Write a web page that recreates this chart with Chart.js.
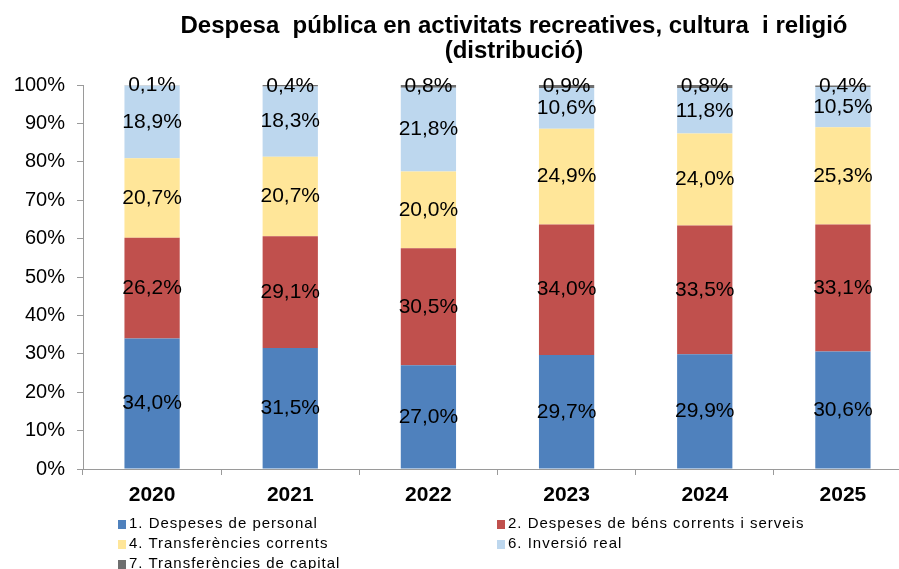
<!DOCTYPE html>
<html>
<head>
<meta charset="utf-8">
<script src="https://cdn.jsdelivr.net/npm/chart.js@4/dist/chart.umd.min.js"></script>
<style>
    html, body { margin: 0; padding: 0; background: #fff; overflow: hidden; width: 899px; height: 569px; }
    .wrap { position: absolute; left: 0; top: 0; width: 912px; height: 569px; }
    .title { position: absolute; left: 0; top: 12px; width: 1028px; text-align: center; font: bold 24px "Liberation Sans", Arial, sans-serif; line-height: 25px; color: #000; }
    .legend { position: absolute; left: 118px; top: 513px; font: 15px "Liberation Sans", Arial, sans-serif; letter-spacing: 1px; color: #000; }
    .legend div { position: absolute; white-space: nowrap; line-height: 20px; }
    .legend i { display: inline-block; width: 8px; height: 9px; margin-right: 3px; vertical-align: -1px; }
</style>
</head>
<body>
<div class="wrap"><canvas id="chart" width="912" height="569"></canvas></div>
<div class="title">Despesa&nbsp; pública en activitats recreatives, cultura&nbsp; i religió<br>(distribució)</div>
<div class="legend" id="legend"></div>
<script>
document.addEventListener('DOMContentLoaded', () => {

    const YEARS = ['2020', '2021', '2022', '2023', '2024', '2025'];

    const PERSONAL = [34.0, 31.5, 27.0, 29.7, 29.9, 30.6];
    const BENS = [26.2, 29.1, 30.5, 34.0, 33.5, 33.1];
    const TRANSF_CORRENTS = [20.7, 20.7, 20.0, 24.9, 24.0, 25.3];
    const INVERSIO = [18.9, 18.3, 21.8, 10.6, 11.8, 10.5];
    const TRANSF_CAPITAL = [0.1, 0.4, 0.8, 0.9, 0.8, 0.4];

    const Y_TICKS = [0, 10, 20, 30, 40, 50, 60, 70, 80, 90, 100];

    const SERIES = [
        { label: '1. Despeses de personal', data: PERSONAL, color: '#4F81BD' },
        { label: '2. Despeses de béns corrents i serveis', data: BENS, color: '#C0504D' },
        { label: '4. Transferències corrents', data: TRANSF_CORRENTS, color: '#FFE699' },
        { label: '6. Inversió real', data: INVERSIO, color: '#BDD7EE' },
        { label: '7. Transferències de capital', data: TRANSF_CAPITAL, color: '#6E6E6E' },
    ];

    const pct = (v) => v.toFixed(1).replace('.', ',') + '%';

    // value labels centred in every segment
    const segmentLabels = {
        id: 'segmentLabels',
        afterDatasetsDraw(chart) {
            const ctx = chart.ctx;
            ctx.save();
            ctx.font = '21px "Liberation Sans", Arial, sans-serif';
            ctx.fillStyle = '#000';
            ctx.textAlign = 'center';
            ctx.textBaseline = 'middle';
            chart.data.datasets.forEach((ds, i) => {
                chart.getDatasetMeta(i).data.forEach((bar, j) => {
                    ctx.fillText(pct(ds.data[j]), bar.x, (bar.y + bar.base) / 2);
                });
            });
            ctx.restore();
        },
    };

    new Chart(document.getElementById('chart'), {
        type: 'bar',
        data: {
            labels: YEARS,
            datasets: SERIES.map((s) => ({
                label: s.label,
                data: s.data,
                backgroundColor: s.color,
                borderWidth: 0,
                barPercentage: 0.4,
                categoryPercentage: 1,
            })),
        },
        options: {
            responsive: false,
            animation: false,
            layout: { padding: { top: 85, bottom: 60, left: 0, right: 0 } },
            plugins: { legend: { display: false }, title: { display: false }, tooltip: { enabled: false } },
            scales: {
                x: {
                    stacked: true,
                    grid: { drawOnChartArea: false, tickLength: 6, color: '#9a9a9a' },
                    border: { color: '#9a9a9a' },
                    ticks: { color: '#000', padding: 8, font: { family: '"Liberation Sans", Arial, sans-serif', size: 21, weight: 'bold' } },
                    afterFit: (s) => { s.height = 40; },
                },
                y: {
                    stacked: true,
                    min: 0,
                    max: 100,
                    afterBuildTicks: (s) => { s.ticks = Y_TICKS.map((v) => ({ value: v })); },
                    grid: { drawOnChartArea: false, tickLength: 6, color: '#9a9a9a' },
                    border: { color: '#9a9a9a' },
                    ticks: { color: '#000', padding: 12, font: { family: '"Liberation Sans", Arial, sans-serif', size: 20 }, callback: (v) => v + '%' },
                    afterFit: (s) => { s.width = 83; },
                },
            },
        },
        plugins: [segmentLabels],
    });

    const legend = document.getElementById('legend');
    const spots = [[0, 0], [379, 0], [0, 20], [379, 20], [0, 40]];
    legend.innerHTML = SERIES.map((s, i) =>
        `<div style="left:${spots[i][0]}px;top:${spots[i][1]}px"><i style="background:${s.color}"></i>${s.label}</div>`).join('');
});
</script>
</body>
</html>
